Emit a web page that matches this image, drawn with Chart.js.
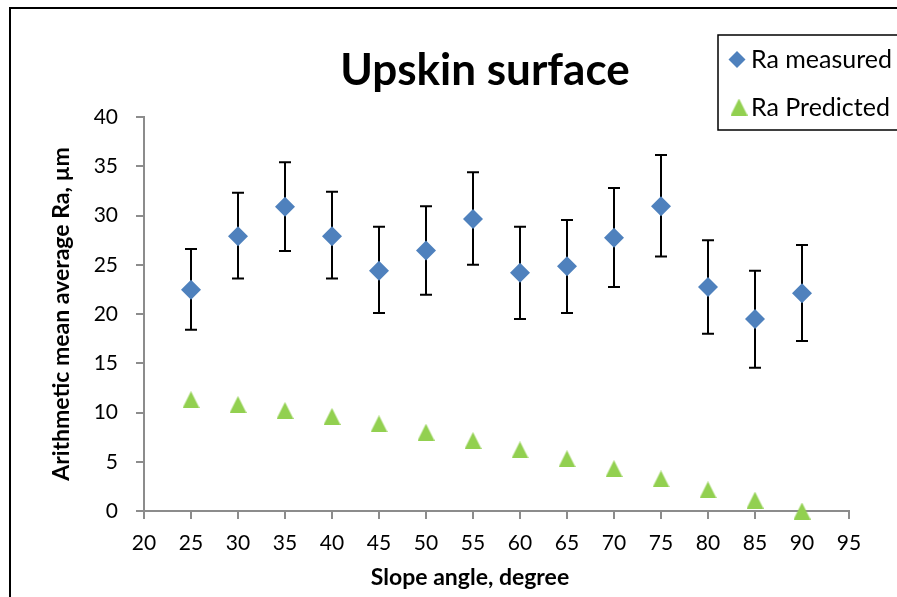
<!DOCTYPE html>
<html>
<head>
<meta charset="utf-8">
<script src="https://cdn.jsdelivr.net/npm/chart.js@4/dist/chart.umd.min.js"></script>
<style>
    html, body { margin: 0; padding: 0; background: #fff; }
    #wrap { width: 897px; height: 597px; position: relative; }
</style>
</head>
<body>
<div id="wrap"><canvas id="chart1"></canvas></div>
<script>
// Slope angles (degree)
const angles = [25, 30, 35, 40, 45, 50, 55, 60, 65, 70, 75, 80, 85, 90];
// Measured Ra (um) with the top / bottom ends of the error bars
const raMeasured = [22.45, 27.9, 30.9, 27.9, 24.4, 26.45, 29.65, 24.2, 24.85, 27.75, 30.95, 22.75, 19.5, 22.1];
const raMeasuredHigh = [26.6, 32.3, 35.4, 32.4, 28.85, 30.95, 34.4, 28.85, 29.55, 32.8, 36.15, 27.5, 24.4, 27.0];
const raMeasuredLow = [18.4, 23.6, 26.4, 23.6, 20.1, 21.95, 25.0, 19.5, 20.1, 22.75, 25.85, 18.0, 14.55, 17.25];
// Predicted Ra (um)
const raPredicted = [11.3, 10.8, 10.2, 9.6, 8.85, 8.0, 7.15, 6.2, 5.3, 4.3, 3.25, 2.15, 1.1, 0];

const xRange = [20, 95];
const yRange = [0, 40];
const tickStep = 5;

const titleText = 'Upskin surface';
const xTitleText = 'Slope angle, degree';
const yTitleText = 'Arithmetic mean average Ra, \u00b5m';
const seriesNames = ['Ra measured', 'Ra Predicted'];

const FONT = 'Lato';
const BLUE = '#4f81bd';
const GREEN = '#92d050';
const AXIS = '#8c8c8c';

// triangle marker, centred on its bounding box like the Excel one
function makeTriangle(w, h, color) {
    const c = document.createElement('canvas');
    c.width = w;
    c.height = h;
    const g = c.getContext('2d');
    g.fillStyle = color;
    g.beginPath();
    g.moveTo(w / 2, 0);
    g.lineTo(w, h);
    g.lineTo(0, h);
    g.closePath();
    g.fill();
    return c;
}
const triangle = makeTriangle(17, 17, GREEN);

// error bars, drawn under the markers
const errorBars = {
    id: 'errorBars',
    beforeDatasetsDraw(chart) {
        const ctx = chart.ctx;
        const x = chart.scales.x, y = chart.scales.y;
        ctx.save();
        ctx.strokeStyle = '#000';
        ctx.lineWidth = 2;
        angles.forEach((a, i) => {
            const px = x.getPixelForValue(a);
            const top = y.getPixelForValue(raMeasuredHigh[i]);
            const bot = y.getPixelForValue(raMeasuredLow[i]);
            ctx.beginPath();
            ctx.moveTo(px, top); ctx.lineTo(px, bot);
            ctx.moveTo(px - 6, top); ctx.lineTo(px + 6, top);
            ctx.moveTo(px - 6, bot); ctx.lineTo(px + 6, bot);
            ctx.stroke();
        });
        ctx.restore();
    }
};

// frame, titles and the boxed legend
const decorations = {
    id: 'decorations',
    afterDraw(chart) {
        const ctx = chart.ctx;
        ctx.save();
        // outer frame (cut by the picture edges)
        ctx.strokeStyle = '#000';
        ctx.lineWidth = 2;
        ctx.strokeRect(10, 8, 900, 600);

        ctx.fillStyle = '#000';
        ctx.textAlign = 'center';
        ctx.textBaseline = 'middle';
        ctx.font = 'bold 44px ' + FONT;
        ctx.fillText(titleText, 485, 71);
        ctx.font = 'bold 23px ' + FONT;
        ctx.fillText(xTitleText, 470, 578);

        // legend
        ctx.fillStyle = '#fff';
        ctx.fillRect(718, 35, 190, 95);
        ctx.lineWidth = 1.5;
        ctx.strokeRect(718, 35, 190, 95);
        ctx.fillStyle = BLUE;
        ctx.beginPath();
        ctx.moveTo(737, 51); ctx.lineTo(745.5, 59.5); ctx.lineTo(737, 68); ctx.lineTo(728.5, 59.5);
        ctx.closePath();
        ctx.fill();
        ctx.drawImage(triangle, 739 - 8.5, 107 - 8.5);
        ctx.fillStyle = '#000';
        ctx.textAlign = 'left';
        ctx.font = '25px ' + FONT;
        ctx.fillText(seriesNames[0], 751, 60);
        ctx.fillText(seriesNames[1], 751, 108);
        ctx.restore();
    }
};

function axisGrid() {
    return { drawOnChartArea: false, drawTicks: true, tickLength: 8, color: AXIS, lineWidth: 2 };
}

document.addEventListener('DOMContentLoaded', function () {
    const ctx = document.getElementById('chart1').getContext('2d');
    new Chart(ctx, {
        type: 'scatter',
        data: {
            datasets: [{
                label: seriesNames[0],
                data: angles.map((a, i) => ({ x: a, y: raMeasured[i] })),
                pointStyle: 'rectRot',
                pointRadius: 10,
                pointHoverRadius: 10,
                backgroundColor: BLUE,
                borderWidth: 0,
                clip: false
            }, {
                label: seriesNames[1],
                data: angles.map((a, i) => ({ x: a, y: raPredicted[i] })),
                pointStyle: triangle,
                pointRadius: 9,
                backgroundColor: GREEN,
                borderWidth: 0,
                clip: false
            }]
        },
        options: {
            responsive: true,
            maintainAspectRatio: false,
            animation: false,
            layout: { padding: { left: 46, right: 48, top: 117, bottom: 0 } },
            plugins: {
                legend: { display: false },
                title: { display: false },
                tooltip: { enabled: false }
            },
            scales: {
                x: {
                    type: 'linear',
                    min: xRange[0],
                    max: xRange[1],
                    grid: axisGrid(),
                    border: { color: AXIS, width: 2 },
                    ticks: { stepSize: tickStep, color: '#000', padding: 12, font: { family: FONT, size: 21 } },
                    afterFit(scale) { scale.height = 86; }
                },
                y: {
                    min: yRange[0],
                    max: yRange[1],
                    grid: axisGrid(),
                    border: { color: AXIS, width: 2 },
                    ticks: { stepSize: tickStep, color: '#000', padding: 18, font: { family: FONT, size: 21 } },
                    title: { display: true, text: yTitleText, color: '#000', padding: { top: 2, bottom: 4 }, font: { family: FONT, size: 23, weight: 'bold' } },
                    afterFit(scale) { scale.width = 98; }
                }
            }
        },
        plugins: [errorBars, decorations]
    });
});
</script>
</body>
</html>
